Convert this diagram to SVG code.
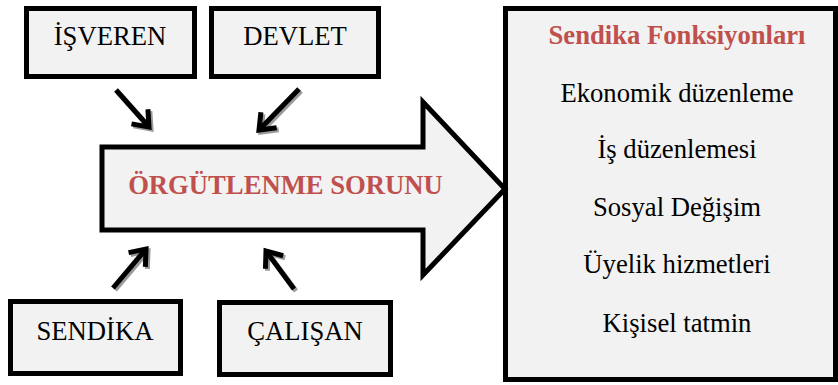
<svg xmlns="http://www.w3.org/2000/svg" width="838" height="385" viewBox="0 0 838 385">
  <defs>
    <style>
      .box { fill: #F2F2F2; stroke: #000; stroke-width: 5; }
      .lbl { font-size: 26.67px; fill: #000; text-anchor: middle; }
      .red { font-weight: bold; fill: #C0504D; }
      .shaft { fill: none; stroke: #000; stroke-width: 5; marker-end: url(#head); }
      .shadow { fill: none; stroke: #9a9a9a; stroke-width: 5; marker-end: url(#headShadow); }
    </style>
    <marker id="head" markerUnits="userSpaceOnUse" markerWidth="40" markerHeight="40" refX="0" refY="0" viewBox="-20 -20 40 40" orient="auto" overflow="visible">
      <path d="M-14,-11 L0,0 L-14,11" fill="none" stroke="#000" stroke-width="5" stroke-linejoin="miter"/>
    </marker>
    <marker id="headShadow" markerUnits="userSpaceOnUse" markerWidth="40" markerHeight="40" refX="0" refY="0" viewBox="-20 -20 40 40" orient="auto" overflow="visible">
      <path d="M-14,-11 L0,0 L-14,11" fill="none" stroke="#9a9a9a" stroke-width="5" stroke-linejoin="miter"/>
    </marker>
  </defs>
  <rect width="838" height="385" fill="#fff"/>

  <g font-family="'Liberation Serif', 'DejaVu Serif', serif">
  <g id="functions">
    <rect class="box" x="505.5" y="8.5" width="330" height="371"/>
    <text class="lbl red" x="677" y="44">Sendika Fonksiyonları</text>
    <text class="lbl" x="677" y="101.5">Ekonomik düzenleme</text>
    <text class="lbl" x="677" y="158">İş düzenlemesi</text>
    <text class="lbl" x="677" y="216">Sosyal Değişim</text>
    <text class="lbl" x="677" y="273">Üyelik hizmetleri</text>
    <text class="lbl" x="677" y="332">Kişisel tatmin</text>
  </g>

  <g id="problem">
    <polygon class="box" points="102,147 423,147 423,102 505,189 423,275 423,230 102,230" stroke-linejoin="miter"/>
    <text class="lbl red" x="285.5" y="194">ÖRGÜTLENME SORUNU</text>
  </g>

  <g id="isveren">
    <rect class="box" x="26.5" y="8.5" width="168" height="68"/>
    <text class="lbl" x="110" y="45">İŞVEREN</text>
  </g>
  <g id="devlet">
    <rect class="box" x="211.5" y="8.5" width="167" height="68"/>
    <text class="lbl" x="295" y="45">DEVLET</text>
  </g>
  <g id="sendika">
    <rect class="box" x="10.5" y="301.5" width="170" height="72"/>
    <text class="lbl" x="95" y="340">SENDİKA</text>
  </g>
  <g id="calisan">
    <rect class="box" x="219.5" y="302.5" width="171" height="72"/>
    <text class="lbl" x="305" y="340">ÇALIŞAN</text>
  </g>
  </g>

  <g id="connectors">
    <g transform="translate(2,2)">
      <line class="shadow" x1="116" y1="90" x2="149" y2="127"/>
      <line class="shadow" x1="299" y1="89" x2="259" y2="130"/>
      <line class="shadow" x1="113" y1="288" x2="146" y2="249"/>
      <line class="shadow" x1="294" y1="289" x2="266" y2="251"/>
    </g>
    <line class="shaft" x1="116" y1="90" x2="149" y2="127"/>
    <line class="shaft" x1="299" y1="89" x2="259" y2="130"/>
    <line class="shaft" x1="113" y1="288" x2="146" y2="249"/>
    <line class="shaft" x1="294" y1="289" x2="266" y2="251"/>
  </g>
</svg>
